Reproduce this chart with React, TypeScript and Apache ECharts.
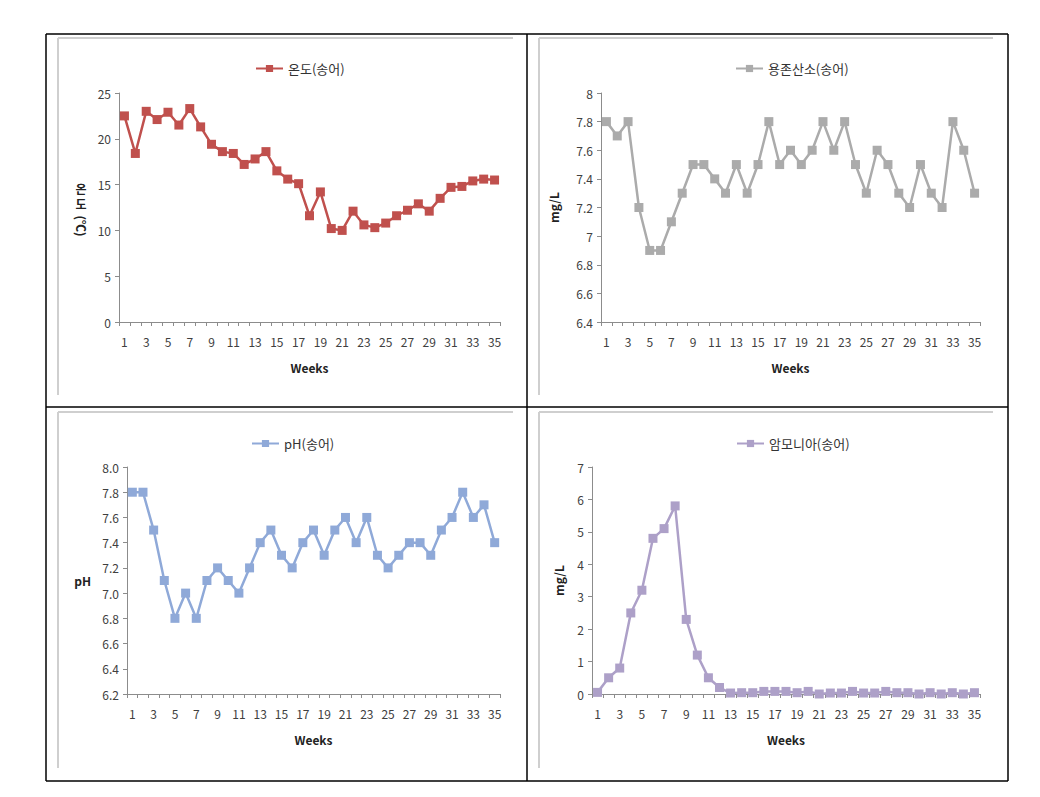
import React, { useEffect, useRef } from "react";
import * as echarts from "echarts";

const weeks = Array.from({ length: 35 }, (_, i) => String(i + 1));

const tempValues = [22.5, 18.4, 23.0, 22.1, 22.9, 21.5, 23.3, 21.3, 19.4, 18.6, 18.4, 17.2, 17.8, 18.6, 16.5, 15.6, 15.1, 11.6, 14.2, 10.2, 10.0, 12.1, 10.6, 10.3, 10.8, 11.6, 12.2, 12.9, 12.1, 13.5, 14.7, 14.8, 15.4, 15.6, 15.5];
const doValues = [7.8, 7.7, 7.8, 7.2, 6.9, 6.9, 7.1, 7.3, 7.5, 7.5, 7.4, 7.3, 7.5, 7.3, 7.5, 7.8, 7.5, 7.6, 7.5, 7.6, 7.8, 7.6, 7.8, 7.5, 7.3, 7.6, 7.5, 7.3, 7.2, 7.5, 7.3, 7.2, 7.8, 7.6, 7.3];
const phValues = [7.8, 7.8, 7.5, 7.1, 6.8, 7.0, 6.8, 7.1, 7.2, 7.1, 7.0, 7.2, 7.4, 7.5, 7.3, 7.2, 7.4, 7.5, 7.3, 7.5, 7.6, 7.4, 7.6, 7.3, 7.2, 7.3, 7.4, 7.4, 7.3, 7.5, 7.6, 7.8, 7.6, 7.7, 7.4];
const nh3Values = [0.05, 0.5, 0.8, 2.5, 3.2, 4.8, 5.1, 5.8, 2.3, 1.2, 0.5, 0.2, 0.03, 0.04, 0.04, 0.08, 0.08, 0.08, 0.04, 0.08, 0.0, 0.03, 0.03, 0.08, 0.03, 0.03, 0.08, 0.04, 0.04, 0.0, 0.04, 0.0, 0.04, 0.0, 0.04];

const seriesNames = ["온도(송어)", "용존산소(송어)", "pH(송어)", "암모니아(송어)"];
const seriesColors = ["#C0504D", "#ABABAB", "#8FA9D8", "#ADA0C8"];
const yNames = ["온도(℃)", "mg/L", "pH", "mg/L"];
const tempNameParts = ["온", "도", "(℃)"];

const FONT = "'Noto Sans CJK KR', 'Noto Sans', sans-serif";

export default function App() {
  const ref = useRef<HTMLDivElement>(null);

  useEffect(() => {
    if (!ref.current) return;
    const chart = echarts.init(ref.current, null, { renderer: "svg" });

    const grids = [
      { left: 119, right: 540, top: 93, bottom: 475 },
      { left: 601, right: 60, top: 93, bottom: 475 },
      { left: 127, right: 540, top: 467, bottom: 103 },
      { left: 592, right: 60, top: 467, bottom: 103 },
    ];

    const axisLine = { show: true, lineStyle: { color: "#8C8C8C", width: 1 } };
    const axisTick = { show: true, length: 4, lineStyle: { color: "#8C8C8C" } };
    const labelStyle = { color: "#404040", fontSize: 12, fontFamily: FONT };
    const nameStyle = { color: "#222", fontSize: 12, fontWeight: "bold", fontFamily: FONT };

    const xAxes = grids.map((_, i) => ({
      type: "category",
      gridIndex: i,
      data: weeks,
      boundaryGap: true,
      axisLine,
      axisTick: { ...axisTick, interval: 0 },
      axisLabel: { ...labelStyle, interval: 1, margin: 13 },
      name: "Weeks",
      nameLocation: "middle",
      nameGap: 39,
      nameTextStyle: nameStyle,
      splitLine: { show: false },
    }));

    const yRanges = [
      { min: 0, max: 25, interval: 5, fmt: (v: number) => String(v) },
      { min: 6.4, max: 8, interval: 0.2, fmt: (v: number) => String(Number(v.toFixed(1))) },
      { min: 6.2, max: 8.0, interval: 0.2, fmt: (v: number) => v.toFixed(1) },
      { min: 0, max: 7, interval: 1, fmt: (v: number) => String(v) },
    ];
    const nameGaps = [36, 42, 36, 28];
    const nameRot = [90, 90, 0, 90];

    const yAxes = yRanges.map((r, i) => ({
      type: "value",
      gridIndex: i,
      min: r.min,
      max: r.max,
      interval: r.interval,
      axisLine,
      axisTick,
      axisLabel: { ...labelStyle, margin: 8, formatter: r.fmt },
      splitLine: { show: false },
      name: i === 0 ? "" : yNames[i],
      nameLocation: "middle",
      nameGap: nameGaps[i],
      nameRotate: nameRot[i],
      nameTextStyle: nameStyle,
    }));

    const dataSets = [tempValues, doValues, phValues, nh3Values];
    const series = dataSets.map((d, i) => ({
      name: seriesNames[i],
      type: "line",
      xAxisIndex: i,
      yAxisIndex: i,
      data: d,
      symbol: "rect",
      symbolSize: 9,
      showSymbol: true,
      showAllSymbol: true,
      lineStyle: { color: seriesColors[i], width: 2.5 },
      itemStyle: { color: seriesColors[i] },
    }));

    const legendPos = [
      { left: 250, top: 57 },
      { left: 730, top: 57 },
      { left: 246, top: 432 },
      { left: 731, top: 432 },
    ];
    const legends = legendPos.map((p, i) => ({
      data: [seriesNames[i]],
      left: p.left,
      top: p.top,
      itemWidth: 27,
      itemHeight: 9,
      itemGap: 4,
      textStyle: { color: "#333", fontSize: 13, fontFamily: FONT },
    }));

    const black = { stroke: "#000", lineWidth: 1.5 };
    const gray = { stroke: "#CFCFCF", lineWidth: 2 };
    const line = (x1: number, y1: number, x2: number, y2: number, style: any) => ({
      type: "line",
      shape: { x1, y1, x2, y2 },
      style,
      silent: true,
    });

    const nameText = (text: string, y: number, rotation: number) => ({
      type: "text",
      x: 81,
      y,
      rotation,
      silent: true,
      style: {
        text,
        fill: "#222",
        font: "bold 12px " + FONT,
        align: "center",
        verticalAlign: "middle",
      },
    });

    const graphic = [
      line(46, 34, 1008, 34, black),
      line(46, 781, 1008, 781, black),
      line(46, 34, 46, 781, black),
      line(1008, 34, 1008, 781, black),
      line(527, 34, 527, 781, black),
      line(46, 407, 1008, 407, black),
      line(58, 38, 513, 38, gray),
      line(58, 38, 58, 395, gray),
      line(539, 38, 993, 38, gray),
      line(539, 38, 539, 395, gray),
      line(58, 412, 513, 412, gray),
      line(58, 412, 58, 768, gray),
      line(539, 412, 993, 412, gray),
      line(539, 412, 539, 768, gray),
      nameText(tempNameParts[0], 188, 0),
      nameText(tempNameParts[1], 203, 0),
      nameText(tempNameParts[2], 226, -Math.PI / 2),
    ];

    chart.setOption({
      animation: false,
      backgroundColor: "#fff",
      textStyle: { fontFamily: FONT },
      grid: grids,
      xAxis: xAxes,
      yAxis: yAxes,
      legend: legends,
      series,
      graphic,
    } as any);

    return () => chart.dispose();
  }, []);

  return (
    <div
      ref={ref}
      style={{ position: "absolute", left: 0, top: 0, width: 1040, height: 797, background: "#fff" }}
    />
  );
}
